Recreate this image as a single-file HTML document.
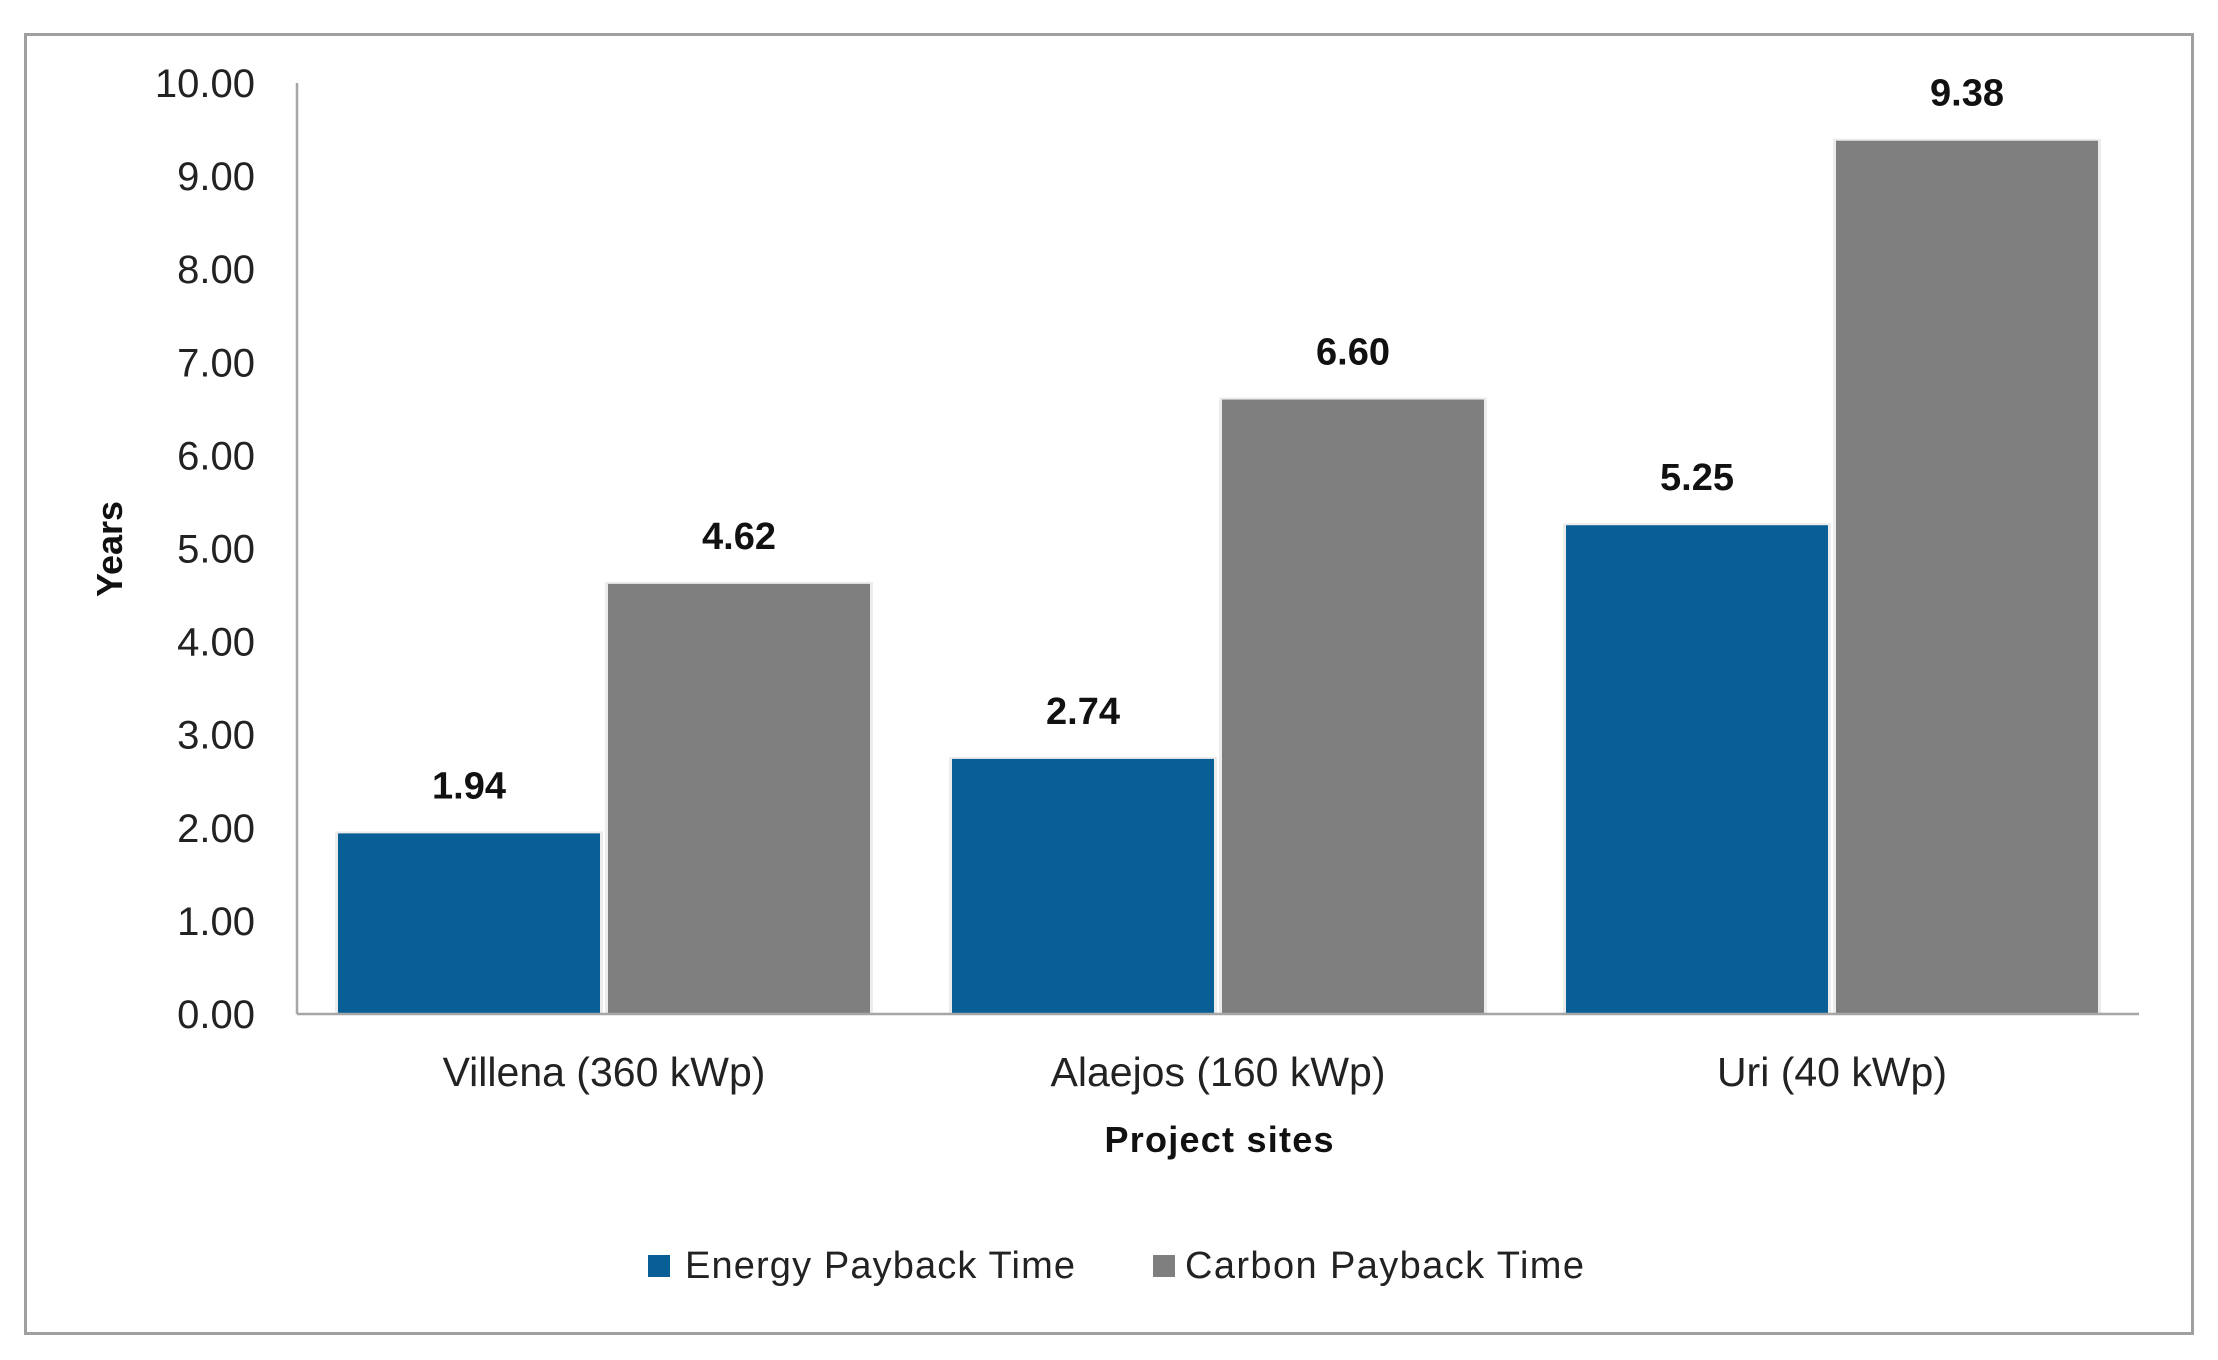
<!DOCTYPE html>
<html><head><meta charset="utf-8"><style>
html,body{margin:0;padding:0;background:#fff;}
svg{display:block;}
text{font-family:"Liberation Sans",sans-serif;}
</style></head><body>
<svg id="chart" width="2218" height="1360" viewBox="0 0 2218 1360" xmlns="http://www.w3.org/2000/svg">
<rect x="25.5" y="34.5" width="2167" height="1299" fill="#fff" stroke="#a0a0a0" stroke-width="3"/>
<g id="grid"></g>
<g id="bars"></g>
<g id="labels"></g>
<line x1="297" y1="83" x2="297" y2="1014" stroke="#a6a6a6" stroke-width="2.5"/>
<line x1="297" y1="1014" x2="2139" y2="1014" stroke="#a6a6a6" stroke-width="2.5"/>
<text transform="translate(122,549) rotate(-90)" text-anchor="middle" font-size="36" font-weight="bold" fill="#111">Years</text>
<text x="1219" y="1152" text-anchor="middle" font-size="36" font-weight="bold" fill="#111" textLength="229">Project sites</text>
<g>
<rect x="648" y="1255" width="22" height="22" fill="#075f96"/>
<text x="685" y="1278" font-size="38" fill="#222" textLength="390">Energy Payback Time</text>
<rect x="1153" y="1255" width="22" height="22" fill="#7f7f7f"/>
<text x="1185" y="1278" font-size="38" fill="#222" textLength="399">Carbon Payback Time</text>
</g>
</svg>
<script>
const categories = ["Villena (360 kWp)", "Alaejos (160 kWp)", "Uri (40 kWp)"];
const energyPayback = [1.94, 2.74, 5.25];
const carbonPayback = [4.62, 6.60, 9.38];
const yTicks = [0, 1, 2, 3, 4, 5, 6, 7, 8, 9, 10];

const NS = "http://www.w3.org/2000/svg";
const plotLeft = 297, plotRight = 2139, zeroY = 1014, topY = 83, yMax = 10;
const yScale = v => zeroY - (v / yMax) * (zeroY - topY);
const catW = (plotRight - plotLeft) / categories.length;
const barW = 262, innerGap = 8;
const xBand = i => plotLeft + catW * i + (catW - (2 * barW + innerGap)) / 2;

function mk(tag, attrs, parent) {
  const el = document.createElementNS(NS, tag);
  for (const k in attrs) el.setAttribute(k, attrs[k]);
  parent.appendChild(el);
  return el;
}
const labels = document.getElementById("labels");
const bars = document.getElementById("bars");

yTicks.forEach(t => {
  const el = mk("text", {x: 255, y: yScale(t) + 14, "text-anchor": "end", "font-size": 40, fill: "#222"}, labels);
  el.textContent = t.toFixed(2);
  
  
});

categories.forEach((c, i) => {
  const cx = plotLeft + catW * (i + 0.5);
  const el = mk("text", {x: cx, y: 1086, "text-anchor": "middle", "font-size": 41, fill: "#222"}, labels);
  el.textContent = c;
  
  

  const series = [[energyPayback[i], "#075f96", "energy"], [carbonPayback[i], "#7f7f7f", "carbon"]];
  series.forEach((s, j) => {
    const x = xBand(i) + j * (barW + innerGap);
    const y = yScale(s[0]);
    const sh = mk("rect", {x: x - 3, y: y - 2, width: barW + 6, height: zeroY - y + 2, fill: "#ececec"}, bars);
    
    
    const r = mk("rect", {x: x, y: y, width: barW, height: zeroY - y - 1, fill: s[1]}, bars);
    
    
    const t = mk("text", {x: x + barW / 2, y: y - 35, "text-anchor": "middle", "font-size": 38, "font-weight": "bold", fill: "#111"}, labels);
    t.textContent = s[0].toFixed(2);
    
    
  });
});
</script>
</body></html>
